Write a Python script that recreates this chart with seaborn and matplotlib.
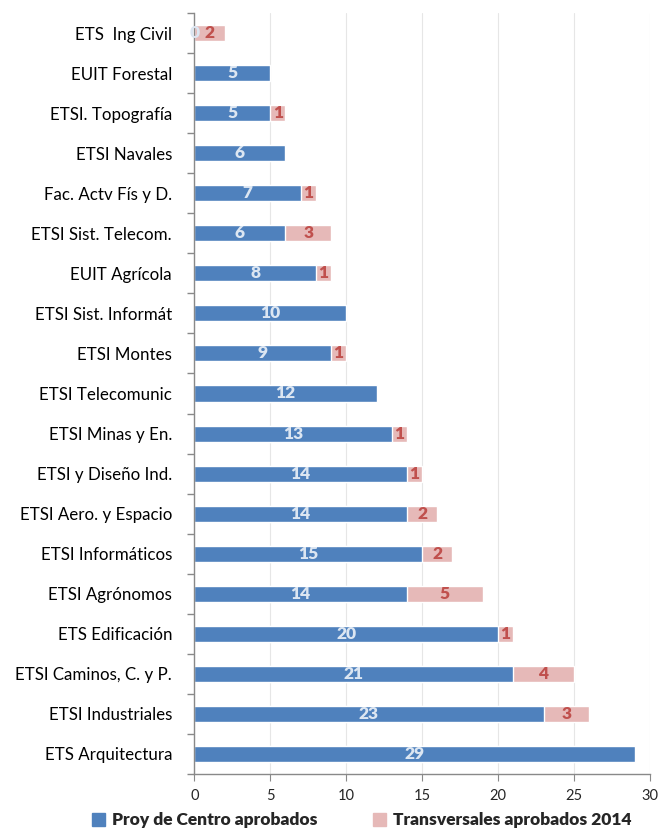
import numpy as np
import pandas as pd
import seaborn as sns
import matplotlib.pyplot as plt
from matplotlib.patches import Patch
from matplotlib.ticker import FixedLocator

centros = ['ETS  Ing Civil', 'EUIT Forestal', 'ETSI. Topografía', 'ETSI Navales',
           'Fac. Actv Fís y D.', 'ETSI Sist. Telecom.', 'EUIT Agrícola',
           'ETSI Sist. Informát', 'ETSI Montes', 'ETSI Telecomunic',
           'ETSI Minas y En.', 'ETSI y Diseño Ind.', 'ETSI Aero. y Espacio',
           'ETSI Informáticos', 'ETSI Agrónomos', 'ETS Edificación',
           'ETSI Caminos, C. y P.', 'ETSI Industriales', 'ETS Arquitectura']
proy_centro = [0, 5, 5, 6, 7, 6, 8, 10, 9, 12, 13, 14, 14, 15, 14, 20, 21, 23, 29]
transversales = [2, 0, 1, 0, 1, 3, 1, 0, 1, 0, 1, 1, 2, 2, 5, 1, 4, 3, 0]

AZUL = '#4F81BD'
ROSA = '#E6B9B8'
TXT_AZUL = '#DCE6F2'
TXT_ROSA = '#C0504D'

df = pd.DataFrame({'centro': centros, 'proy': proy_centro, 'trans': transversales})
df['total'] = df['proy'] + df['trans']

sns.set_style('white')
plt.rcParams['font.family'] = ['Lato', 'DejaVu Sans']

fig = plt.figure(figsize=(6.7, 8.39), dpi=100)
ax = fig.add_axes([0.29, 0.0775, 0.68, 0.907])

# barra total (rosa) y encima la de centro (azul)
sns.barplot(data=df, y='centro', x='total', color=ROSA, width=0.4,
            saturation=1, ax=ax, orient='h')
sns.barplot(data=df, y='centro', x='proy', color=AZUL, width=0.4,
            saturation=1, ax=ax, orient='h')

# etiquetas de valores
for i, row in df.iterrows():
    ax.text(row['proy'] / 2, i, str(row['proy']),
            ha='center', va='center', color=TXT_AZUL, fontsize=12.5,
            fontweight='heavy')
    if row['trans'] > 0:
        ax.text(row['proy'] + row['trans'] / 2, i, str(row['trans']),
                ha='center', va='center', color=TXT_ROSA, fontsize=12.5,
                fontweight='heavy')

ax.set_xlim(0, 30)
ax.set_ylim(len(centros) - 0.5, -0.5)
ax.set_xticks(range(0, 31, 5))
ax.set_xlabel('')
ax.set_ylabel('')
ax.grid(axis='x', color='#E6E6E6', linewidth=0.8)
ax.set_axisbelow(True)

ax.yaxis.set_minor_locator(FixedLocator(np.arange(-0.5, len(centros), 1)))
ax.tick_params(axis='y', which='major', length=0, pad=16, labelsize=12.2,
               colors='black')
ax.tick_params(axis='y', which='minor', length=5, color='#898989', width=1,
               direction='out', left=True)
ax.tick_params(axis='x', which='major', length=5, color='#898989',
               direction='out', bottom=True, labelsize=10.5, pad=6)

for s in ['top', 'right']:
    ax.spines[s].set_visible(False)
for s in ['left', 'bottom']:
    ax.spines[s].set_color('#898989')
    ax.spines[s].set_linewidth(1)

handles = [Patch(color=AZUL, label='Proy de Centro aprobados'),
           Patch(color=ROSA, label='Transversales aprobados 2014')]
fig.legend(handles=handles, loc='lower center', bbox_to_anchor=(0.54, -0.006),
           ncol=2, frameon=False, prop={'weight': 'heavy', 'size': 12.5},
           handlelength=0.75, handleheight=0.75, handletextpad=0.4,
           columnspacing=3.2)

fig.savefig('out.png', dpi=100)
